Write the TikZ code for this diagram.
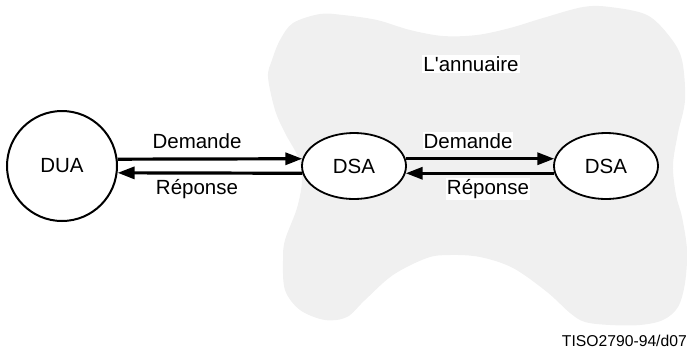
\documentclass[tikz,border=0pt]{standalone}
\usepackage{fontspec}
\setmainfont{Liberation Sans}
\usetikzlibrary{shapes.geometric,arrows.meta}
\definecolor{blobgray}{RGB}{240,240,240}
\tikzset{
  lbl/.style={font=\fontsize{20.5}{24}\selectfont, inner sep=1pt, fill=white},
  dsabox/.style={ellipse, draw, line width=1.8pt, fill=white, minimum width=104pt, minimum height=66pt, inner sep=0pt, font=\fontsize{20.5}{24}\selectfont},
  duabox/.style={circle, draw, line width=2pt, fill=white, minimum size=110pt, inner sep=0pt, font=\fontsize{20.5}{24}\selectfont},
  msg/.style={line width=3.2pt, -{Triangle[length=17pt,width=12pt]}}
}
\begin{document}
\begin{tikzpicture}[x=1pt,y=-1pt]
\useasboundingbox (0,0) rectangle (687,349);
% directory cloud
\fill[blobgray] plot[smooth cycle, tension=0.55] coordinates {
 (293,23) (320,14) (343,15) (377,20) (410,30) (443,36) (477,35) (510,28) (543,18)
 (583,7) (610,7) (647,15) (670,37) (682,60) (685,100) (678,133) (673,165) (676,195)
 (682,217) (687,250) (685,283) (678,307) (663,320) (640,325) (610,325) (585,322)
 (570,313) (547,292) (513,268) (480,257) (450,255) (427,258) (393,275) (365,300)
 (347,317) (325,320) (300,310) (285,290) (283,260) (285,240) (297,208) (302,180)
 (298,157) (285,133) (275,110) (268,77) (272,60) (280,40)};
\node[lbl] (dir) at (471,64) {L\textquotesingle annuaire};
\node[duabox] (dua) at (62,166) {DUA};
\node[dsabox] (dsa1) at (354,166) {DSA};
\node[dsabox] (dsa2) at (606,166) {DSA};
\draw[msg] (dua.7) -- (dsa1.172);
\draw[msg] (dsa1.188) -- (dua.353);
\draw[msg] (dsa1.8) -- (dsa2.172);
\draw[msg] (dsa2.188) -- (dsa1.352);
\node[lbl] (q1) at (197,141) {Demande};
\node[lbl] (r1) at (197,189) {Réponse};
\node[lbl] (q2) at (468,141) {Demande};
\node[lbl] (r2) at (488,189) {Réponse};
\node[anchor=base east, inner sep=0pt, font=\fontsize{15.7}{18}\selectfont] (ref) at (687,346) {TISO2790-94/d07};
\end{tikzpicture}
\end{document}
